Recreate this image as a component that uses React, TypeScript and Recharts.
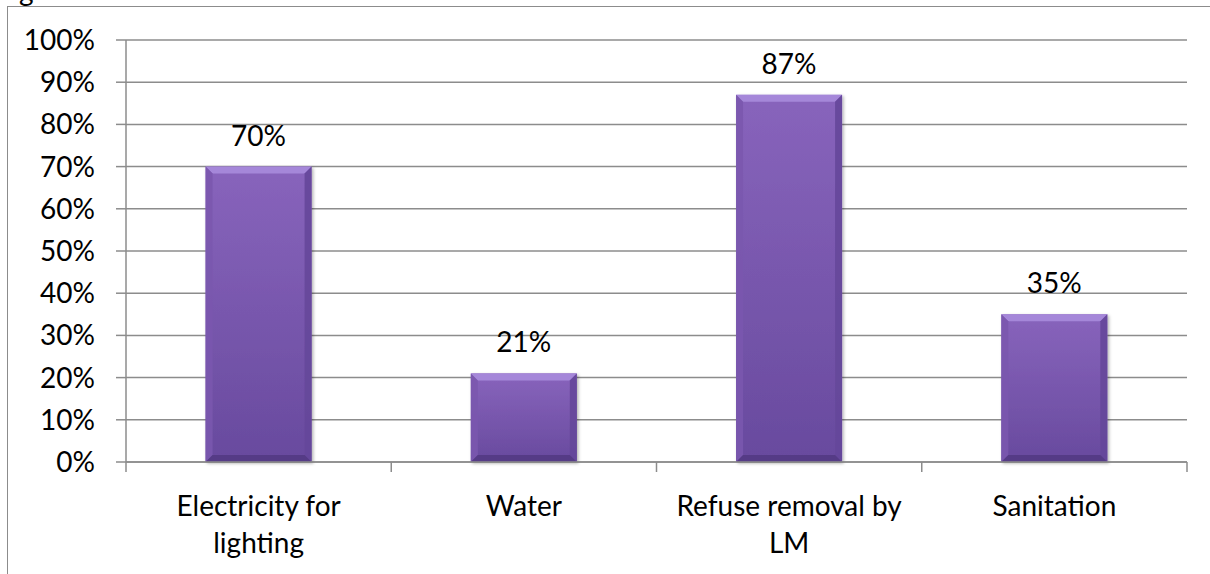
import React from 'react';
import {
  BarChart,
  Bar,
  XAxis,
  YAxis,
  CartesianGrid,
  LabelList,
} from 'recharts';

const services: string[] = [
  'Electricity for lighting',
  'Water',
  'Refuse removal by LM',
  'Sanitation',
];
const access: number[] = [70, 21, 87, 35];
const percentTicks: number[] = [0, 10, 20, 30, 40, 50, 60, 70, 80, 90, 100];

const rows = services.map((name, i) => ({ name, value: access[i] }));

const FONT = 'Lato, "Open Sans", sans-serif';
const FONT_SIZE = 28;
const AXIS_GREY = '#8c8c8c';
const LABEL_WRAP = 242;

const pct = (v: number | string) => `${v}%`;

let measureCtx: CanvasRenderingContext2D | null = null;
const textWidth = (s: string) => {
  if (!measureCtx) {
    measureCtx = document.createElement('canvas').getContext('2d');
  }
  if (!measureCtx) return s.length * FONT_SIZE * 0.5;
  measureCtx.font = `${FONT_SIZE}px ${FONT}`;
  return measureCtx.measureText(s).width;
};

// greedy word wrap for the category names
const wrapWords = (label: string, maxWidth: number) => {
  const lines: string[] = [];
  let cur = '';
  label.split(' ').forEach((w) => {
    const next = cur ? `${cur} ${w}` : w;
    if (cur && textWidth(next) > maxWidth) {
      lines.push(cur);
      cur = w;
    } else {
      cur = next;
    }
  });
  if (cur) lines.push(cur);
  return lines;
};

// Excel-style bevelled column: gradient body with light top edge and darker sides/bottom
const BevelBar = (props: any) => {
  const { x, y, width, height } = props;
  if (!height || height <= 0) return null;
  const b = Math.min(7, height / 3);
  const r = x + width;
  const btm = y + height;
  return (
    <g filter="url(#barShadow)">
      <rect x={x} y={y} width={width} height={height} fill="url(#barBody)" />
      <polygon
        points={`${x},${y} ${r},${y} ${r - b},${y + b} ${x + b},${y + b}`}
        fill="#a587d9"
      />
      <polygon
        points={`${x},${y} ${x + b},${y + b} ${x + b},${btm - b} ${x},${btm}`}
        fill="#7a58ae"
        opacity={0.9}
      />
      <polygon
        points={`${r},${y} ${r - b},${y + b} ${r - b},${btm - b} ${r},${btm}`}
        fill="#65479a"
        opacity={0.9}
      />
      <polygon
        points={`${x},${btm} ${x + b},${btm - b} ${r - b},${btm - b} ${r},${btm}`}
        fill="#553a86"
      />
    </g>
  );
};

// category label, wrapped, plus the boundary tick marks between categories
const CategoryTick = (props: any) => {
  const { x, y, payload, index, visibleTicksCount } = props;
  const half = payload?.offset ?? 132.6;
  const axisY = y - 10;
  const last = index === (visibleTicksCount ?? services.length) - 1;
  const lines = wrapWords(String(payload.value), LABEL_WRAP);
  return (
    <g>
      <line x1={x - half} x2={x - half} y1={axisY} y2={axisY + 10} stroke={AXIS_GREY} strokeWidth={1.5} />
      {last && (
        <line x1={x + half} x2={x + half} y1={axisY} y2={axisY + 10} stroke={AXIS_GREY} strokeWidth={1.5} />
      )}
      <text
        x={x}
        y={y + 44}
        textAnchor="middle"
        fontSize={FONT_SIZE}
        fontFamily={FONT}
        fill="#000"
      >
        {lines.map((line, i) => (
          <tspan key={i} x={x} dy={i === 0 ? 0 : 37}>
            {line}
          </tspan>
        ))}
      </text>
    </g>
  );
};

export default function App() {
  return (
    <div
      style={{
        position: 'absolute',
        left: 0,
        top: 0,
        width: 1210,
        height: 574,
        overflow: 'hidden',
        background: '#fff',
      }}
    >
      {/* tail of the caption line above the chart frame */}
      <div
        style={{
          position: 'absolute',
          left: 19,
          top: -23,
          fontFamily: FONT,
          fontSize: FONT_SIZE,
          lineHeight: '26px',
          color: '#000',
        }}
      >
        g
      </div>
      {/* chart frame */}
      <div
        style={{
          position: 'absolute',
          left: 7,
          top: 6,
          width: 1260,
          height: 620,
          border: `1.5px solid ${AXIS_GREY}`,
        }}
      />
      <div style={{ position: 'absolute', left: 0, top: 0 }}>
        <BarChart
          width={1210}
          height={574}
          data={rows}
          margin={{ top: 40, right: 23, bottom: 0, left: 0 }}
          barCategoryGap="30%"
        >
          <defs>
            <linearGradient id="barBody" x1="0" y1="0" x2="0" y2="1">
              <stop offset="0%" stopColor="#8864bc" />
              <stop offset="100%" stopColor="#684a9e" />
            </linearGradient>
            <filter id="barShadow" x="-10%" y="-10%" width="130%" height="130%">
              <feDropShadow dx="1.5" dy="1.5" stdDeviation="1.5" floodColor="#000" floodOpacity="0.3" />
            </filter>
          </defs>
          <CartesianGrid vertical={false} stroke={AXIS_GREY} strokeWidth={1.5} />
          <YAxis
            width={126}
            domain={[0, 100]}
            ticks={percentTicks}
            interval={0}
            tickFormatter={pct}
            axisLine={{ stroke: AXIS_GREY, strokeWidth: 1.5 }}
            tickLine={{ stroke: AXIS_GREY, strokeWidth: 1.5 }}
            tickSize={10}
            tickMargin={21}
            tick={{ fill: '#000', fontSize: FONT_SIZE, fontFamily: FONT }}
          />
          <XAxis
            dataKey="name"
            height={112}
            interval={0}
            axisLine={{ stroke: AXIS_GREY, strokeWidth: 1.5 }}
            tickLine={false}
            tickSize={10}
            tickMargin={0}
            tick={<CategoryTick />}
          />
          <Bar dataKey="value" shape={<BevelBar />} isAnimationActive={false}>
            <LabelList
              dataKey="value"
              position="top"
              offset={21}
              formatter={pct}
              fill="#000"
              fontSize={FONT_SIZE}
              fontFamily={FONT}
            />
          </Bar>
        </BarChart>
      </div>
    </div>
  );
}
